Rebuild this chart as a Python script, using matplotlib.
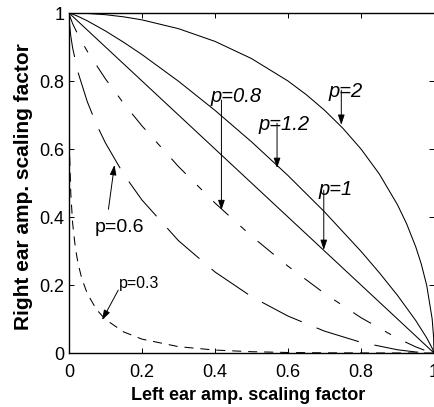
import matplotlib
matplotlib.use("Agg")
import matplotlib.pyplot as plt

plt.rcParams["font.family"] = ["Liberation Sans", "DejaVu Sans"]
plt.rcParams["lines.scale_dashes"] = False

# curves (right ear vs left ear scaling, one curve per exponent p)
X_P2 = [0, 0.05, 0.1, 0.15, 0.2, 0.3, 0.4, 0.5, 0.6, 0.65, 0.7, 0.75, 0.8, 0.85,
        0.9, 0.925, 0.95, 0.965, 0.98, 0.995, 0.999, 1.0]
Y_P2 = [1.0, 0.9987, 0.9950, 0.9887, 0.9798, 0.9539, 0.9165, 0.8660, 0.8000, 0.7599,
        0.7141, 0.6614, 0.6000, 0.5268, 0.4359, 0.3800, 0.3122, 0.2622, 0.1990,
        0.0999, 0.0447, 0.0]

X_P12 = [0, 0.01, 0.025, 0.05, 0.1, 0.15, 0.2, 0.3, 0.4, 0.5, 0.6, 0.7, 0.8, 0.85,
         0.9, 0.95, 0.98, 0.995, 0.999, 1.0]
Y_P12 = [1.0, 0.9967, 0.9900, 0.9771, 0.9471, 0.9137, 0.8777, 0.7993, 0.7136, 0.6212,
         0.5219, 0.4151, 0.2991, 0.2364, 0.1695, 0.0955, 0.0446, 0.0141, 0.0037, 0.0]

X_P1 = [0, 1.0]
Y_P1 = [1.0, 0]

X_P08 = [0, 0.0005, 0.002, 0.01, 0.025, 0.05, 0.1, 0.15, 0.2, 0.3, 0.4, 0.5, 0.6,
         0.7, 0.8, 0.9, 0.95, 0.98, 0.995, 1.0]
Y_P08 = [1.0, 0.9971, 0.9913, 0.9687, 0.9351, 0.8875, 0.8060, 0.7339, 0.6679, 0.5483,
         0.4411, 0.3438, 0.2553, 0.1752, 0.1039, 0.0431, 0.0180, 0.0057, 0.0010, 0.0]

X_P06 = [0, 0.0002, 0.0005, 0.002, 0.005, 0.01, 0.025, 0.05, 0.075, 0.1, 0.15, 0.2,
         0.3, 0.4, 0.5, 0.6, 0.7, 0.8, 0.9, 0.95, 0.98, 1.0]
Y_P06 = [1.0, 0.9900, 0.9826, 0.9603, 0.9316, 0.8971, 0.8245, 0.7394, 0.6731, 0.6175,
         0.5253, 0.4499, 0.3303, 0.2383, 0.1658, 0.1086, 0.0643, 0.0314, 0.0095,
         0.0030, 0.0006, 0.0]

X_P03 = [0, 0.0001, 0.0005, 0.002, 0.005, 0.01, 0.0175, 0.025, 0.035, 0.05, 0.075,
         0.1, 0.15, 0.2, 0.3, 0.4, 0.5, 0.6, 0.7, 0.8, 1.0]
Y_P03 = [1.0, 0.8047, 0.6980, 0.5705, 0.4673, 0.3813, 0.3088, 0.2623, 0.2192, 0.1751,
         0.1284, 0.0984, 0.0619, 0.0408, 0.0187, 0.0086, 0.0038, 0.0015, 0.0005,
         0.0001, 0.0]

TICKS = [0, 0.2, 0.4, 0.6, 0.8, 1]
TICK_LABELS = ["0", "0.2", "0.4", "0.6", "0.8", "1"]

fig = plt.figure(figsize=(4.34, 4.07), dpi=100)
ax = fig.add_axes([69 / 434, 54 / 407, 365 / 434, 340 / 407])

lw = 0.75
ax.plot(X_P2, Y_P2, color="black", lw=lw)
ax.plot(X_P12, Y_P12, color="black", lw=lw)
ax.plot(X_P1, Y_P1, color="black", lw=lw)
ax.plot(X_P08, Y_P08, color="black", lw=lw, dashes=(15, 11.5, 5, 11.5))
ax.plot(X_P06, Y_P06, color="black", lw=lw, dashes=(32, 11.5))
ax.plot(X_P03, Y_P03, color="black", lw=lw, dashes=(6.5, 5))

arrow = dict(arrowstyle="-|>,head_length=0.6,head_width=0.2", color="black",
             lw=0.7, shrinkA=0, shrinkB=0)

# labels with arrows pointing to their curve
ax.text(0.387, 0.738, "p=0.8", fontsize=14.5, style="italic", ha="left", va="baseline")
ax.annotate("", xy=(0.4176, 0.42), xytext=(0.4176, 0.744), arrowprops=arrow)

ax.text(0.7115, 0.754, "p=2", fontsize=14.5, style="italic", ha="left", va="baseline")
ax.annotate("", xy=(0.746, 0.671), xytext=(0.746, 0.773), arrowprops=arrow)

ax.text(0.519, 0.656, "p=1.2", fontsize=14.5, style="italic", ha="left", va="baseline")
ax.annotate("", xy=(0.570, 0.544), xytext=(0.570, 0.676), arrowprops=arrow)

ax.text(0.684, 0.465, "p=1", fontsize=14.5, style="italic", ha="left", va="baseline")
ax.annotate("", xy=(0.698, 0.303), xytext=(0.698, 0.479), arrowprops=arrow)

ax.text(0.071, 0.357, "p=0.6", fontsize=14, ha="left", va="baseline")
ax.annotate("", xy=(0.1245, 0.553), xytext=(0.108, 0.4226), arrowprops=arrow)

ax.text(0.137, 0.191, "p=0.3", fontsize=11.5, ha="left", va="baseline")
ax.annotate("", xy=(0.0907, 0.097), xytext=(0.135, 0.185), arrowprops=arrow)

ax.set_xlim(0, 1)
ax.set_ylim(0, 1)
ax.set_xticks(TICKS)
ax.set_xticklabels(TICK_LABELS)
ax.set_yticks(TICKS)
ax.set_yticklabels(TICK_LABELS)
ax.tick_params(direction="in", length=3.6, width=0.7, top=True, right=True,
               labelsize=13)
ax.tick_params(axis="x", pad=8)
ax.tick_params(axis="y", pad=3.2)
for spine in ax.spines.values():
    spine.set_linewidth(1.0)
ax.spines["right"].set_visible(False)

ax.set_xlabel("Left ear amp. scaling factor", fontsize=13, fontweight="bold")
ax.xaxis.set_label_coords(0.49, -0.1)
ax.xaxis.label.set_va("top")
ax.set_ylabel("Right ear amp. scaling factor", fontsize=15, fontweight="bold")
ax.yaxis.set_label_coords(-0.0986, 0.49)

fig.savefig("out.png", dpi=100, facecolor="white")
